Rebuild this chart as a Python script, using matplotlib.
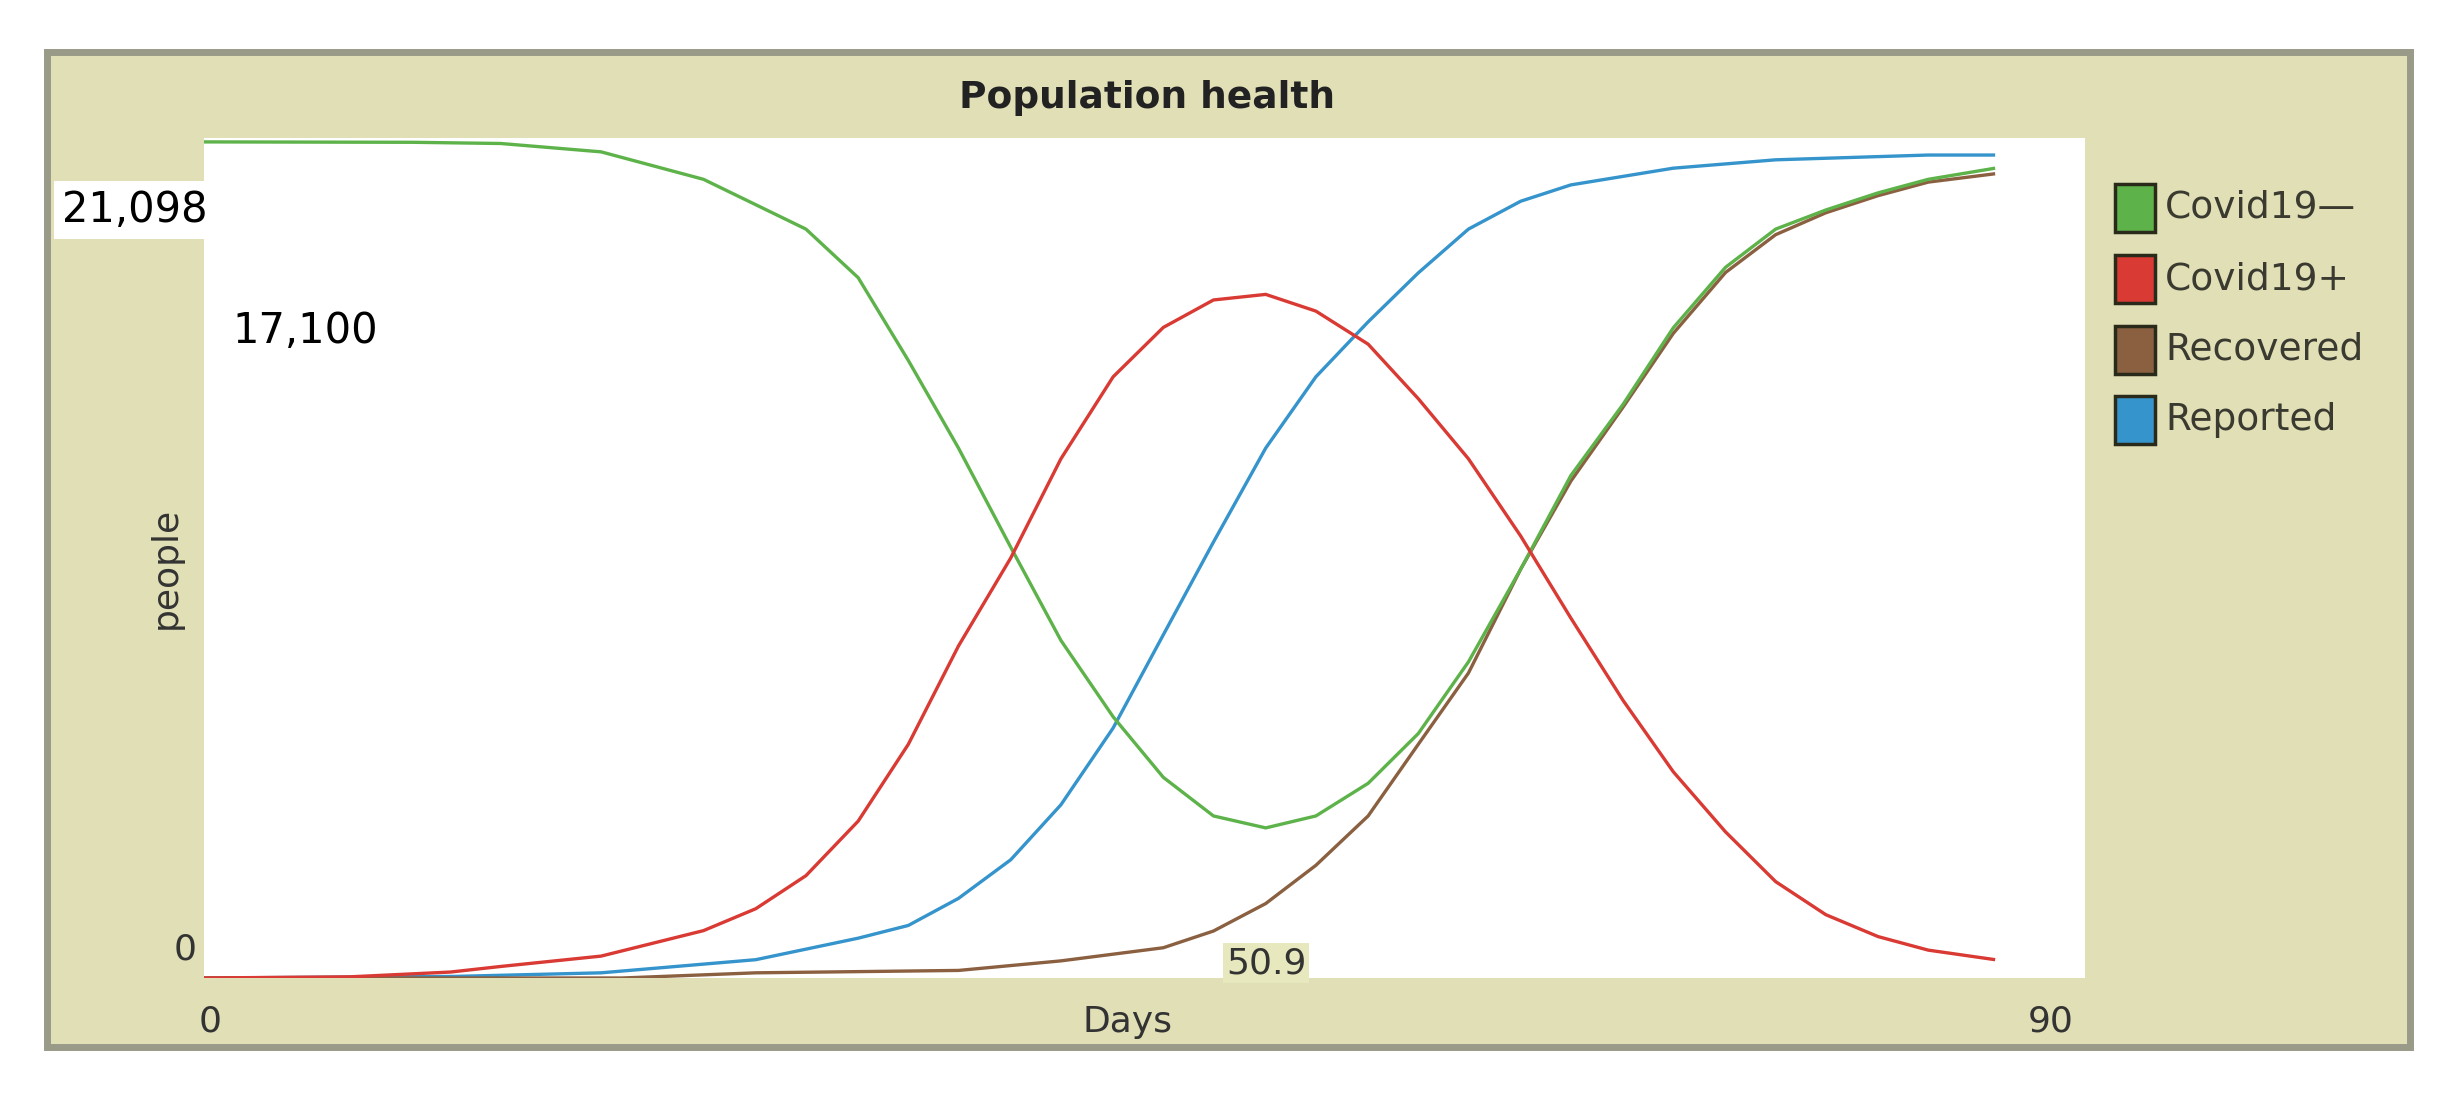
"""
NetLogo style plot: Population health
"""
import matplotlib
matplotlib.use("Agg")
import matplotlib.pyplot as plt
from matplotlib.patches import Rectangle

plt.rcParams['font.family'] = ['Liberation Sans Narrow', 'DejaVu Sans']

# --- DATA --- #
neg_days = [0, 10, 14.2, 19.0, 23.9, 28.8, 31.3, 33.7, 36.1, 38.6, 41.0, 43.5, 45.9, 48.3, 50.8,
            53.2, 55.7, 58.1, 60.5, 63.0, 65.4, 67.9, 70.3, 72.8, 75.2, 77.6, 80.1, 82.5, 85.7]
neg_vals = [21000, 20990, 20960, 20750, 20060, 18810, 17590, 15510, 13310, 10820, 8480, 6560, 5040, 4070, 3770,
            4070, 4890, 6140, 7940, 10270, 12620, 14410, 16330, 17850, 18810, 19290, 19720, 20060, 20340]

pos_days = [0, 7, 11.8, 14.2, 19.0, 23.9, 26.4, 28.8, 31.3, 33.7, 36.1, 38.6, 41.0, 43.5, 45.9, 48.3, 50.8,
            53.2, 55.7, 58.1, 60.5, 63.0, 65.4, 67.9, 70.3, 72.8, 75.2, 77.6, 80.1, 82.5, 85.7]
pos_vals = [0, 30, 150, 290, 550, 1190, 1740, 2570, 3940, 5870, 8340, 10550, 13040, 15100, 16340, 17030, 17170,
            16750, 15920, 14550, 13040, 11100, 9040, 6970, 5180, 3670, 2420, 1590, 1040, 700, 460]

rec_days = [0, 20, 26.4, 36.1, 41.0, 45.9, 48.3, 50.8, 53.2, 55.7, 58.1, 60.5, 63.0, 65.4, 67.9,
            70.3, 72.8, 75.2, 77.6, 80.1, 82.5, 85.7]
rec_vals = [0, 0, 130, 190, 430, 760, 1180, 1870, 2830, 4070, 5870, 7660, 10270, 12480, 14340,
            16190, 17720, 18670, 19220, 19650, 19990, 20200]

rep_days = [0, 12, 19.0, 26.4, 31.3, 33.7, 36.1, 38.6, 41.0, 43.5, 45.9, 48.3, 50.8, 53.2, 55.7,
            58.1, 60.5, 63.0, 65.4, 70.3, 75.2, 82.5, 85.7]
rep_vals = [0, 40, 130, 460, 1000, 1320, 2000, 2970, 4350, 6280, 8620, 10950, 13310, 15100, 16480,
            17710, 18810, 19510, 19920, 20340, 20550, 20670, 20670]

series_names = ['Covid19\u2014', 'Covid19+', 'Recovered', 'Reported']
series_colors = ['#5DB34A', '#D93A33', '#8A6040', '#3594CC']
y_max = 21098
x_max = 90

W, H = 2462, 1110
beige = '#E0DFB6'

fig = plt.figure(figsize=(W / 100, H / 100), dpi=100)
fig.patch.set_facecolor('white')

def px(x, y, w, h):
    # pixel box (top-left origin) -> figure fraction
    return [x / W, 1 - (y + h) / H, w / W, h / H]

# outer frame (behind the axes)
fig.patches.append(Rectangle((47 / W, 1 - 1047 / H), (2410 - 47) / W, (1047 - 52) / H,
                             transform=fig.transFigure, facecolor=beige, edgecolor='#9A9A88',
                             lw=5, zorder=-5))

# plot area
ax = fig.add_axes(px(204, 138, 2085 - 204, 978 - 138))
ax.set_zorder(1)
ax.set_facecolor('white')
for s in ax.spines.values():
    s.set_visible(False)
ax.set_xticks([])
ax.set_yticks([])
ax.set_xlim(0, x_max)
ax.set_ylim(0, y_max)

all_days = [neg_days, pos_days, rec_days, rep_days]
all_vals = [neg_vals, pos_vals, rec_vals, rep_vals]
# draw order: reported, recovered, negative, positive
for i in [3, 2, 0, 1]:
    ax.plot(all_days[i], all_vals[i], color=series_colors[i], lw=2.4, solid_capstyle='butt')

# title and axis text
fig.text(1147 / W, 1 - 98 / H, 'Population health', ha='center', va='center',
         fontsize=27, fontweight='bold', color='#222222')
fig.text(166 / W, 1 - 568 / H, 'people', ha='center', va='center', rotation=90,
         fontsize=26, color='#333333')
fig.text(185 / W, 1 - 950 / H, '0', ha='center', va='center', fontsize=26, color='#333333')
fig.text(210 / W, 1 - 1022 / H, '0', ha='center', va='center', fontsize=26, color='#333333')
fig.text(1128 / W, 1 - 1022 / H, 'Days', ha='center', va='center', fontsize=26, color='#333333')
fig.text(2051 / W, 1 - 1022 / H, '90', ha='center', va='center', fontsize=26, color='#333333')

# hover labels (drawn above the axes)
fig.text(62 / W, 1 - 210 / H, '{:,}'.format(y_max), ha='left', va='center', fontsize=30, color='black',
         bbox=dict(facecolor='white', edgecolor='none', pad=6), zorder=5)
fig.text(232 / W, 1 - 331 / H, '17,100', ha='left', va='center', fontsize=30, color='black', zorder=5)
fig.text(1266 / W, 1 - 963 / H, '50.9', ha='center', va='center', fontsize=26, color='#333333',
         bbox=dict(facecolor='#E8E8BE', edgecolor='none', pad=2), zorder=5)

# legend
leg_y = [208, 279, 350, 420]
for name, col, y in zip(series_names, series_colors, leg_y):
    fig.patches.append(Rectangle((2115 / W, 1 - (y + 24) / H), 40 / W, 48 / H,
                                 transform=fig.transFigure, facecolor=col, edgecolor='#2A2A1A', lw=2.5))
    fig.text(2165 / W, 1 - y / H, name, ha='left', va='center', fontsize=27, color='#3A3A30')

fig.savefig('out.png', dpi=100, facecolor='white')
